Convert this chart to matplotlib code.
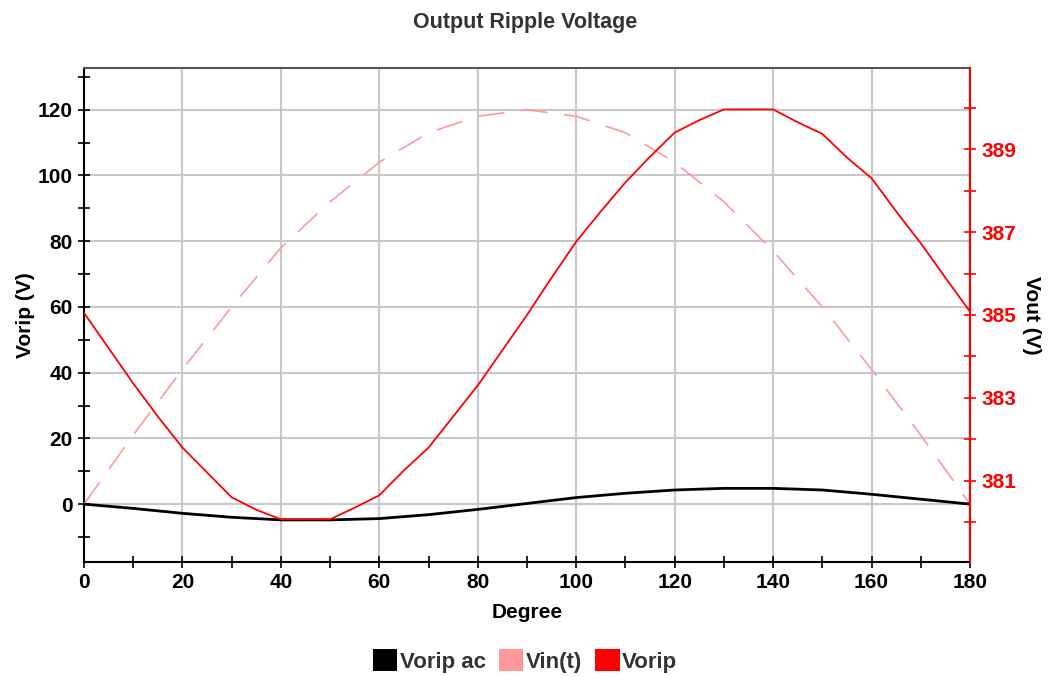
import matplotlib
matplotlib.use("Agg")
import matplotlib.pyplot as plt
from matplotlib.patches import Patch
from matplotlib.ticker import MultipleLocator

plt.rcParams['font.family'] = ['Liberation Sans', 'DejaVu Sans']
plt.rcParams['font.weight'] = 'bold'

# Vorip ac (left axis), every 10 degrees
deg_10 = [0, 10, 20, 30, 40, 50, 60, 70, 80, 90, 100, 110, 120, 130, 140, 150, 160, 170, 180]
vorip_ac = [0, -1.3, -2.8, -4.0, -4.8, -4.8, -4.4, -3.2, -1.6, 0.2, 2.0, 3.3, 4.3, 4.8, 4.8, 4.3, 3.0, 1.5, 0]
# Vin(t) (left axis)
vin_t = [0, 21, 41, 60, 78, 92, 104, 113, 118, 120, 118, 113, 104, 92, 77, 60, 41, 21, 0]

# Vorip (right axis, Vout), every 5 degrees
deg_5 = [0, 5, 10, 15, 20, 25, 30, 35, 40, 45, 50, 55, 60, 65, 70, 75, 80, 85, 90,
         95, 100, 105, 110, 115, 120, 125, 130, 135, 140, 145, 150, 155, 160, 165, 170, 175, 180]
vorip = [385.05, 384.2, 383.35, 382.55, 381.8, 381.2, 380.6, 380.3, 380.07, 380.07, 380.07, 380.35,
         380.65, 381.25, 381.8, 382.55, 383.3, 384.15, 385.0, 385.9, 386.77, 387.5, 388.2, 388.82,
         389.4, 389.7, 389.96, 389.96, 389.96, 389.65, 389.37, 388.8, 388.3, 387.5, 386.73, 385.9, 385.08]

fig = plt.figure(figsize=(10.5, 6.77), dpi=100)
ax = fig.add_axes([0.08, 0.1699, 0.8438, 0.7297])
ax2 = ax.twinx()

ax.plot(deg_10, vin_t, color='#ff9999', linewidth=1.2, dashes=(16, 10), zorder=3)
ax.plot(deg_10, vorip_ac, color='black', linewidth=2.0, zorder=4)
ax2.plot(deg_5, vorip, color='red', linewidth=1.3)

ax.set_xlim(0, 180)
ax.set_ylim(-17.6, 132.7)
ax2.set_ylim(379.04, 390.96)

ax.xaxis.set_major_locator(MultipleLocator(20))
ax.xaxis.set_minor_locator(MultipleLocator(10))
ax.yaxis.set_major_locator(MultipleLocator(20))
ax.yaxis.set_minor_locator(MultipleLocator(10))
ax2.set_yticks([381, 383, 385, 387, 389])
ax2.yaxis.set_minor_locator(MultipleLocator(1))

ax.grid(True, which='major', color='#c8c8c8', linewidth=1.5)
ax.set_axisbelow(True)

for a in (ax, ax2):
    a.tick_params(which='both', direction='inout', length=8, width=1.2)
ax.tick_params(labelsize=15, pad=4)
ax2.tick_params(axis='y', which='both', colors='red', labelsize=15, pad=4)

ax.spines['left'].set_color('black')
ax.spines['bottom'].set_color('black')
ax.spines['top'].set_color('#555555')
for s in ax.spines.values():
    s.set_linewidth(1.5)
for name, s in ax2.spines.items():
    s.set_visible(name == 'right')
ax2.spines['right'].set_color('red')
ax2.spines['right'].set_linewidth(1.5)

ax.set_xlabel('Degree', fontsize=15, fontweight='bold', labelpad=8)
ax.set_ylabel('Vorip (V)', fontsize=15, fontweight='bold', labelpad=2)
ax2.set_ylabel('Vout (V)', fontsize=15, fontweight='bold', rotation=270, labelpad=18)

fig.suptitle('Output Ripple Voltage', x=0.5, y=0.983, fontsize=15.5, fontweight='bold', color='#333333')

handles = [Patch(facecolor='black', edgecolor='none', label='Vorip ac'),
           Patch(facecolor='#ff9999', edgecolor='none', label='Vin(t)'),
           Patch(facecolor='red', edgecolor='none', label='Vorip')]
leg = fig.legend(handles=handles, loc='center', bbox_to_anchor=(0.5, 0.0236), ncol=3, frameon=False,
                 fontsize=16, handlelength=1.1, handleheight=1.1, handletextpad=0.1, columnspacing=0.6)
for t in leg.get_texts():
    t.set_color('#333333')

fig.savefig('out.png', dpi=100)
